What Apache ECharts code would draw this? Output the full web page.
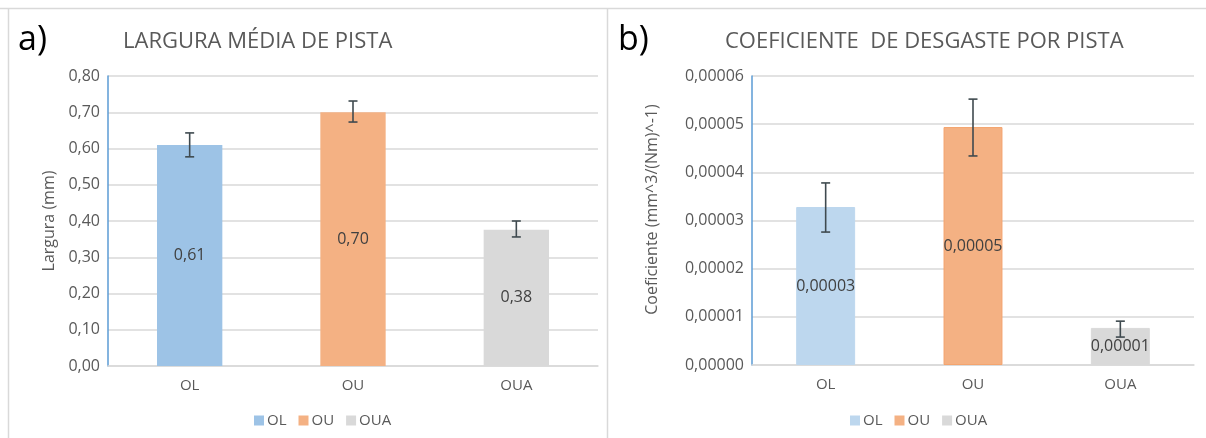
<!DOCTYPE html>
<html>
<head>
<meta charset="utf-8">
<script src="https://cdn.jsdelivr.net/npm/echarts@6/dist/echarts.min.js"></script>
<style>html,body{margin:0;padding:0;background:#fff}#c{width:1206px;height:438px}</style>
</head>
<body>
<div id="c"></div>
<script>
// ---- data ----
var categories = ['OL', 'OU', 'OUA'];
var larguraValues = [0.610, 0.700, 0.376];
var larguraLow = [0.577, 0.673, 0.356];
var larguraHigh = [0.643, 0.731, 0.400];
var coefValues = [0.0000328, 0.0000494, 0.0000077];
var coefLow = [0.0000276, 0.0000434, 0.0000058];
var coefHigh = [0.0000378, 0.0000552, 0.0000091];
var larguraTicks = { min: 0, max: 0.8, interval: 0.1 };
var coefTicks = { min: 0, max: 0.00006, interval: 0.00001 };
var leftColors = ['#9DC3E6', '#F4B183', '#D9D9D9'];
var rightColors = ['#BDD7EE', '#F4B183', '#D9D9D9'];

var FONT = 'Open Sans';
var TXT = '#595959';
function comma(v, d) { return v.toFixed(d).replace('.', ','); }

function barSeries(vals, colors, axisIdx, decimals, borders) {
  return categories.map(function (c, i) {
    var data = categories.map(function (_, j) { return j === i ? vals[i] : '-'; });
    return {
      type: 'bar', name: c, xAxisIndex: axisIdx, yAxisIndex: axisIdx,
      data: data, barWidth: '40%', barGap: '-100%',
      itemStyle: { color: colors[i], borderColor: borders ? borders[i] : colors[i], borderWidth: borders ? 1 : 0 },
      label: { show: true, position: 'inside', color: '#404040', fontFamily: FONT, fontSize: 16,
        formatter: function (p) { return comma(p.value, decimals); } },
      emphasis: { disabled: true }, silent: true
    };
  });
}

function errSeries(low, high, axisIdx) {
  return {
    type: 'custom', xAxisIndex: axisIdx, yAxisIndex: axisIdx, silent: true, z: 10,
    data: categories.map(function (_, i) { return [i, low[i], high[i]]; }),
    renderItem: function (params, api) {
      var lo = api.coord([api.value(0), api.value(1)]);
      var hi = api.coord([api.value(0), api.value(2)]);
      var w = 4.5;
      var st = { stroke: '#3F4A4F', lineWidth: 1.6 };
      return { type: 'group', children: [
        { type: 'line', shape: { x1: hi[0], y1: hi[1], x2: lo[0], y2: lo[1] }, style: st },
        { type: 'line', shape: { x1: hi[0] - w, y1: hi[1], x2: hi[0] + w, y2: hi[1] }, style: st },
        { type: 'line', shape: { x1: lo[0] - w, y1: lo[1], x2: lo[0] + w, y2: lo[1] }, style: st }
      ]};
    }
  };
}

function xAxis(idx) {
  return { type: 'category', gridIndex: idx, data: categories,
    axisLine: { lineStyle: { color: '#D9D9D9', width: 1.5 } }, axisTick: { show: false },
    axisLabel: { color: TXT, fontFamily: FONT, fontSize: 15, margin: 12 } };
}
function yAxis(idx, ticks, decimals, name, gap, pad) {
  return { type: 'value', gridIndex: idx, min: ticks.min, max: ticks.max, interval: ticks.interval,
    name: name, nameLocation: 'middle', nameGap: gap, nameRotate: 90,
    nameTextStyle: { color: TXT, fontFamily: FONT, fontSize: 16, padding: pad },
    axisLine: { show: true, lineStyle: { color: '#5B9BD5', width: 1.5 } }, axisTick: { show: false },
    splitLine: { lineStyle: { color: '#D9D9D9', width: 1.5 } },
    axisLabel: { color: TXT, fontFamily: FONT, fontSize: 16, margin: 8,
      formatter: function (v) { return comma(v, decimals); } } };
}

var chart = echarts.init(document.getElementById('c'), null, { renderer: 'canvas' });
chart.setOption({
  animation: false,
  backgroundColor: '#fff',
  grid: [
    { left: 108, top: 76, width: 490, height: 290 },
    { left: 752, top: 76, width: 442, height: 289 }
  ],
  xAxis: [xAxis(0), xAxis(1)],
  yAxis: [
    yAxis(0, larguraTicks, 2, 'Largura (mm)', 51, [0, 0, 0, 0]),
    yAxis(1, coefTicks, 5, 'Coeficiente (mm^3/(Nm)^-1)', 92, [0, 0, 0, 22])
  ],
  legend: [
    { left: 249, top: 408, itemWidth: 10, itemHeight: 10, itemGap: 12, icon: 'rect', selectedMode: false,
      textStyle: { color: TXT, fontFamily: FONT, fontSize: 15, padding: [0, 0, 0, -2] },
      data: categories.map(function (c, i) { return { name: c, itemStyle: { color: leftColors[i], borderWidth: 0 } }; }) },
    { left: 845, top: 408, itemWidth: 10, itemHeight: 10, itemGap: 12, icon: 'rect', selectedMode: false,
      textStyle: { color: TXT, fontFamily: FONT, fontSize: 15, padding: [0, 0, 0, -2] },
      data: categories.map(function (c, i) { return { name: c, itemStyle: { color: rightColors[i], borderWidth: 0 } }; }) }
  ],
  graphic: [
    { type: 'line', shape: { x1: 0, y1: 8.5, x2: 1206, y2: 8.5 }, style: { stroke: '#D9D9D9', lineWidth: 1.5 }, silent: true },
    { type: 'line', shape: { x1: 8.5, y1: 8, x2: 8.5, y2: 438 }, style: { stroke: '#D9D9D9', lineWidth: 1.5 }, silent: true },
    { type: 'line', shape: { x1: 607.5, y1: 8, x2: 607.5, y2: 438 }, style: { stroke: '#D9D9D9', lineWidth: 1.5 }, silent: true },
    { type: 'text', left: 18, top: 23, style: { text: 'a)', fontFamily: FONT, fontSize: 34, fill: '#000' } },
    { type: 'text', left: 618, top: 23, style: { text: 'b)', fontFamily: FONT, fontSize: 34, fill: '#000' } },
    { type: 'text', left: 123, top: 31, style: { text: 'LARGURA MÉDIA DE PISTA', fontFamily: FONT, fontSize: 22, fill: TXT } },
    { type: 'text', left: 725, top: 31, style: { text: 'COEFICIENTE  DE DESGASTE POR PISTA', fontFamily: FONT, fontSize: 22, fill: TXT } }
  ],
  series: [].concat(
    barSeries(larguraValues, leftColors, 0, 2),
    [errSeries(larguraLow, larguraHigh, 0)],
    barSeries(coefValues, rightColors, 1, 5, ['#BDD7EE', '#F4A46E', '#D9D9D9']),
    [errSeries(coefLow, coefHigh, 1)]
  )
});
</script>
</body>
</html>
